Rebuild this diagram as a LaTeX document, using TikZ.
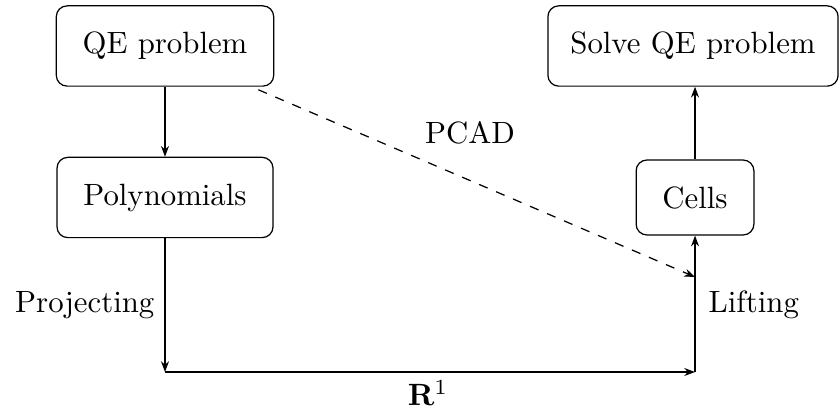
\documentclass[tikz,border=0pt]{standalone}
\usetikzlibrary{arrows.meta}
\begin{document}
\begin{tikzpicture}[x=0.3247pt,y=-0.3247pt,
  box/.style={draw, rounded corners=3.5pt, inner sep=0.3cm, align=center},
  arr/.style={-{Stealth[length=3.5pt,width=2.6pt]}},
  lbl/.style={inner sep=0pt}]
  \useasboundingbox (0,0) rectangle (840,416);

  % boxes
  \node[box, minimum width=216*0.3247pt, minimum height=78*0.3247pt] (qe) at (165,46) {QE problem};
  \node[box, minimum width=216*0.3247pt, minimum height=77*0.3247pt] (poly) at (165,197.5) {Polynomials};
  \node[box, inner xsep=7.3pt, minimum height=78*0.3247pt] (solve) at (693,46) {Solve QE problem};
  \node[box, minimum width=116*0.3247pt, minimum height=71*0.3247pt] (cells) at (695,197.5) {Cells};

  % corners of the projection/lifting path
  \coordinate (pbot) at (165,372);
  \coordinate (lbot) at (695,372);
  \coordinate (lift) at (695,277);

  \draw[arr] (qe) -- (poly);
  \draw[arr] (poly) -- (pbot);
  \draw[arr] (pbot) -- (lbot);
  \draw[arr] (lbot) -- (cells);
  \draw[arr] (cells.north) -- (cells.north |- solve.south);
  \draw[arr, dashed] (qe.south east) ++(-16,3) -- (lift);

  % labels
  \node[lbl] (pcad) at (470,133) {PCAD};
  \node[lbl, anchor=east] (proj) at (155,305) {Projecting};
  \node[lbl, anchor=west] (lifting) at (708,305) {Lifting};
  \node[lbl] (rone) at (428,393) {$\mathbf{R}^1$};
\end{tikzpicture}
\end{document}
